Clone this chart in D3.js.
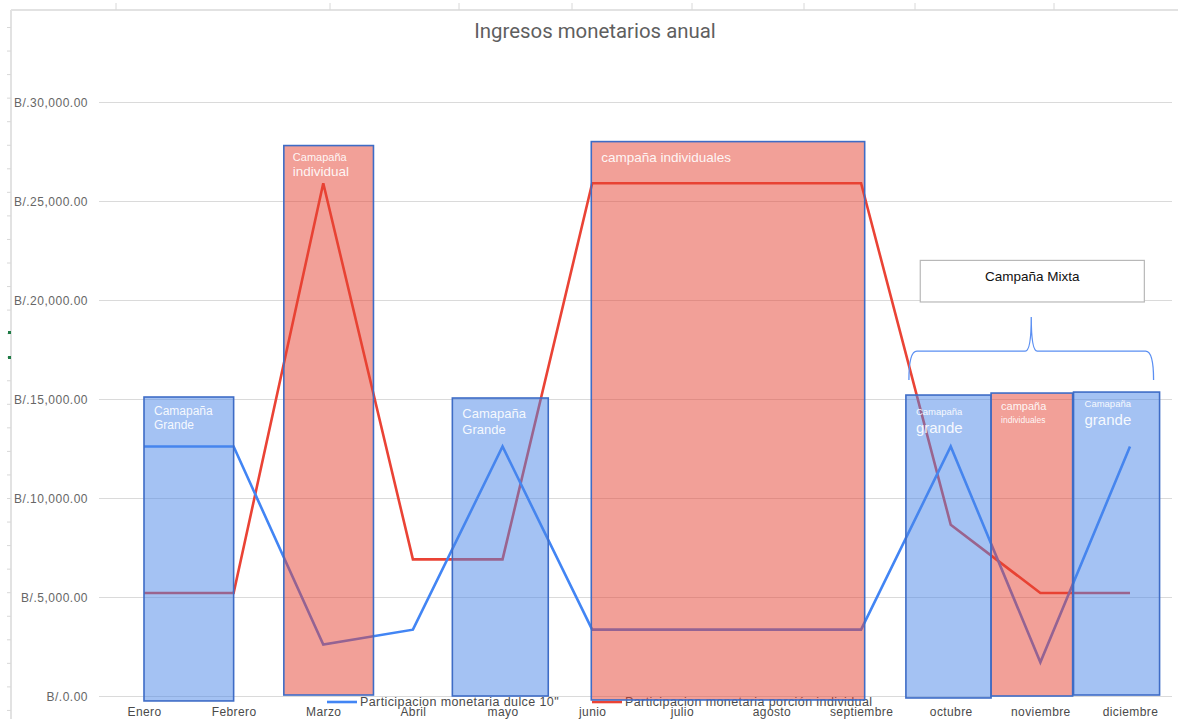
<!DOCTYPE html>
<html>
<head>
<meta charset="utf-8">
<script src="https://cdn.jsdelivr.net/npm/d3@7"></script>
<style>
  html, body { margin: 0; padding: 0; background: #fff; }
  svg { display: block; }
</style>
</head>
<body>
<svg id="chart" width="1178" height="719"></svg>
<script>
// ---- data ----
const months = ["Enero", "Febrero", "Marzo", "Abril", "mayo", "junio", "julio",
                "agosto", "septiembre", "octubre", "noviembre", "diciembre"];
const dulce10 = [12600, 12600, 2600, 3350, 12600, 3350, 3350, 3350, 3350, 12600, 1700, 12600];
const porcionIndividual = [5200, 5200, 25900, 6900, 6900, 25900, 25900, 25900, 25900, 8650, 5200, 5200];
const yTicks = [0, 5000, 10000, 15000, 20000, 25000, 30000];
const seriesNames = ["Participacion monetaria dulce 10\"", "Participacion monetaria porción individual"];

// campaign periods, measured in month index units
const campStart = [0, 1.56, 3.44, 4.99, 8.5, 9.45, 10.37];
const campEnd = [1, 2.56, 4.51, 8.04, 9.45, 10.36, 11.33];
const campTop = [15100, 27800, 15050, 28000, 15200, 15300, 15350];
const campBase = [-250, 50, 0, -200, -100, 0, 50];
const campKind = ["grande", "individual", "grande", "individual", "grande", "individual", "grande"];
const campLabels = [
  ["Camapaña", "Grande"],
  ["Camapaña", "individual"],
  ["Camapaña", "Grande"],
  ["campaña individuales"],
  ["Camapaña", "grande"],
  ["campaña", "individuales"],
  ["Camapaña", "grande"]
];
const mixtaLabel = "Campaña Mixta";
const mixtaRange = [8.66, 11.16];
const mixtaValues = [19900, 22000];
const title = "Ingresos monetarios anual";

// ---- layout ----
const svg = d3.select("#chart");
const W = 1178, H = 719;
const plotLeft = 99, plotRight = 1172;

const x = d3.scalePoint().domain(months).range([144, 1130]);
const xi = d3.scaleLinear().domain([0, months.length - 1]).range([144, 1130]);
const y = d3.scaleLinear().domain([0, 30000]).range([696, 102]);

const blueLine = "#4285f4", redLine = "#ea4335";
const blueFill = "rgb(74,134,232)", redFill = "rgb(229,65,50)";
const boxStroke = "#3e6cc6";

// spreadsheet frame around the chart
const frame = svg.append("g");
frame.append("line").attr("x1", 11).attr("x2", W).attr("y1", 10).attr("y2", 10)
  .attr("stroke", "#e2e2e2").attr("stroke-width", 2);
frame.append("line").attr("x1", 11).attr("x2", 11).attr("y1", 10).attr("y2", H)
  .attr("stroke", "#e2e2e2").attr("stroke-width", 2);
[116, 330, 459, 572, 692, 804, 915, 1054].forEach(cx => {
  frame.append("line").attr("x1", cx).attr("x2", cx).attr("y1", 3).attr("y2", 10)
    .attr("stroke", "#d8d8d8").attr("stroke-width", 1);
});
d3.range(27.5, H, 23.55).forEach(cy => {
  frame.append("line").attr("x1", 7).attr("x2", 11).attr("y1", cy).attr("y2", cy)
    .attr("stroke", "#d8d8d8").attr("stroke-width", 1);
});
[332, 357].forEach(cy => {
  frame.append("rect").attr("x", 8).attr("y", cy - 1).attr("width", 3).attr("height", 3)
    .attr("fill", "#1e7b45");
});

// title
svg.append("text")
  .attr("x", 595).attr("y", 38)
  .attr("text-anchor", "middle")
  .attr("font-family", "Roboto, Arial, sans-serif")
  .attr("font-size", 20.4)
  .attr("fill", "#5f5f5f")
  .text(title);

// y axis with gridlines
const yAxis = svg.append("g")
  .attr("transform", `translate(${plotLeft},0)`)
  .call(d3.axisLeft(y).tickValues(yTicks)
    .tickSize(-(plotRight - plotLeft)).tickPadding(11)
    .tickFormat(d => "B/." + d3.format(",.2f")(d)));
yAxis.select(".domain").remove();
yAxis.selectAll(".tick line").attr("stroke", "#dadada").attr("stroke-width", 1.2);
yAxis.selectAll(".tick text")
  .attr("font-family", "Arial, 'Liberation Sans', sans-serif")
  .attr("font-size", 12)
  .attr("letter-spacing", 0.5)
  .attr("fill", "#666")
  .attr("dy", "0.35em");

// x axis labels
const xAxis = svg.append("g")
  .attr("transform", `translate(0,${y(0)})`)
  .call(d3.axisBottom(x).tickSize(0).tickPadding(11));
xAxis.select(".domain").remove();
xAxis.selectAll(".tick text")
  .attr("font-family", "Arial, 'Liberation Sans', sans-serif")
  .attr("font-size", 12)
  .attr("letter-spacing", 0.4)
  .attr("fill", "#4a4a4a");

// series lines
const line = d3.line().x((d, i) => x(months[i])).y(d => y(d));
svg.append("path").datum(porcionIndividual)
  .attr("d", line).attr("fill", "none")
  .attr("stroke", redLine).attr("stroke-width", 2.6).attr("stroke-linejoin", "miter");
svg.append("path").datum(dulce10)
  .attr("d", line).attr("fill", "none")
  .attr("stroke", blueLine).attr("stroke-width", 2.6).attr("stroke-linejoin", "miter");

// legend
const legend = svg.append("g").attr("font-family", "Arial, 'Liberation Sans', sans-serif")
  .attr("font-size", 12.5).attr("letter-spacing", 0.4).attr("fill", "#4a4a4a");
const legendX = [327, 592];
const legendColors = [blueLine, redLine];
seriesNames.forEach((name, i) => {
  legend.append("line").attr("x1", legendX[i]).attr("x2", legendX[i] + 30)
    .attr("y1", 702).attr("y2", 702)
    .attr("stroke", legendColors[i]).attr("stroke-width", 2.6);
  legend.append("text").attr("x", legendX[i] + 33).attr("y", 706).text(name);
});

// campaign boxes
const camps = campStart.map((s, i) => ({
  s, e: campEnd[i], top: campTop[i], base: campBase[i], kind: campKind[i], label: campLabels[i]
}));
svg.append("g").selectAll("rect").data(camps).join("rect")
  .attr("x", d => xi(d.s))
  .attr("width", d => xi(d.e) - xi(d.s))
  .attr("y", d => y(d.top))
  .attr("height", d => y(d.base) - y(d.top))
  .attr("fill", d => d.kind === "grande" ? blueFill : redFill)
  .attr("fill-opacity", 0.5)
  .attr("stroke", boxStroke)
  .attr("stroke-width", 1.6);

// text inside each campaign box: font size per line and offsets
const labelStyle = [
  { sizes: [12, 12], dx: 10, dy: [18, 32] },
  { sizes: [11, 13.5], dx: 9, dy: [15, 30] },
  { sizes: [13, 13], dx: 10, dy: [20, 36] },
  { sizes: [13.5], dx: 10, dy: [20] },
  { sizes: [9.5, 15], dx: 10, dy: [20, 38] },
  { sizes: [11, 8.5], dx: 10, dy: [17, 30] },
  { sizes: [9.5, 15], dx: 11, dy: [15, 33] }
];
const labelsG = svg.append("g").attr("font-family", "Arial, 'Liberation Sans', sans-serif")
  .attr("fill", "#fff").attr("fill-opacity", 0.92);
camps.forEach((d, i) => {
  const st = labelStyle[i];
  d.label.forEach((t, j) => {
    labelsG.append("text")
      .attr("x", xi(d.s) + st.dx)
      .attr("y", y(d.top) + st.dy[j])
      .attr("font-size", st.sizes[j])
      .text(t);
  });
});

// brace grouping the mixed campaign months
const bl = xi(campStart[4]) + 3, br = xi(campEnd[6]) - 6;
const bm = (bl + br) / 2;
const yEnd = y(15960), yBar = y(17420), yTip = y(19140);
const brace = d3.path();
brace.moveTo(bl, yEnd);
brace.quadraticCurveTo(bl, yBar, bl + 8, yBar);
brace.lineTo(bm - 6, yBar);
brace.quadraticCurveTo(bm, yBar, bm, yTip);
brace.quadraticCurveTo(bm, yBar, bm + 6, yBar);
brace.lineTo(br - 8, yBar);
brace.quadraticCurveTo(br, yBar, br, yEnd);
svg.append("path").attr("d", brace.toString())
  .attr("fill", "none").attr("stroke", "#5b8ff2").attr("stroke-width", 1.3);

// "Campaña Mixta" callout
svg.append("rect")
  .attr("x", xi(mixtaRange[0])).attr("width", xi(mixtaRange[1]) - xi(mixtaRange[0]))
  .attr("y", y(mixtaValues[1])).attr("height", y(mixtaValues[0]) - y(mixtaValues[1]))
  .attr("fill", "#fff").attr("stroke", "#b8b8b8").attr("stroke-width", 1.2);
svg.append("text")
  .attr("x", (xi(mixtaRange[0]) + xi(mixtaRange[1])) / 2)
  .attr("y", y(mixtaValues[1]) + 21)
  .attr("text-anchor", "middle")
  .attr("font-family", "Arial, 'Liberation Sans', sans-serif")
  .attr("font-size", 13.5)
  .attr("fill", "#111")
  .text(mixtaLabel);
</script>
</body>
</html>
